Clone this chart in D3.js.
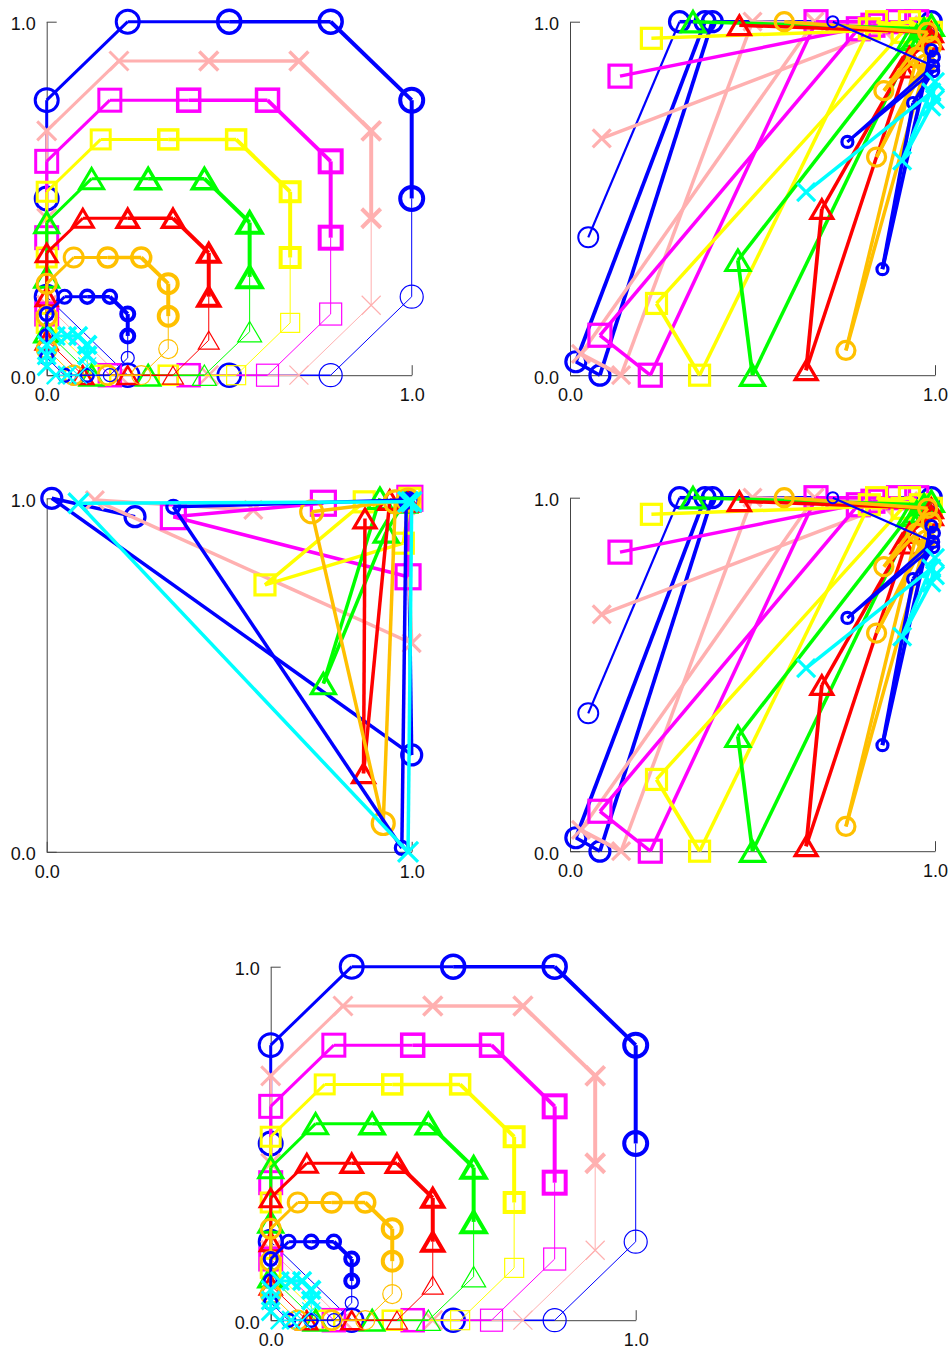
<!DOCTYPE html>
<html><head><meta charset="utf-8">
<script src="https://cdn.jsdelivr.net/npm/d3@7"></script>
<style>body{margin:0;background:#fff}svg{display:block}</style>
</head><body>
<svg id="chart" width="952" height="1353"></svg>
<script>
// ---------- shared series styling ----------
const seriesColors  = ["#0000ff","#ffb0b0","#ff00ff","#ffff00","#00ff00","#ff0000","#ffc000","#0000ff","#00ffff"];
const seriesMarkers = ["circle","x","square","square","triangle","triangle","circle","circle","x"];
const tickValues = [0, 1];
const tickLabels = ["0.0", "1.0"];

// ---------- spiral data (panels 1 and 5) ----------
const spiral0 = [[0.5,0],[0.778,0],[1,0.222],[1,0.5],[1,0.778],[0.778,1],[0.5,1],[0.222,1],[0,0.778],[0,0.5],[0,0.222],[0.222,0]];
const spiral1 = [[0.444,0],[0.691,0],[0.889,0.198],[0.889,0.444],[0.889,0.691],[0.691,0.889],[0.444,0.889],[0.198,0.889],[0,0.691],[0,0.444],[0,0.198],[0.198,0]];
const spiral2 = [[0.389,0],[0.605,0],[0.778,0.173],[0.778,0.389],[0.778,0.605],[0.605,0.778],[0.389,0.778],[0.173,0.778],[0,0.605],[0,0.389],[0,0.173],[0.173,0]];
const spiral3 = [[0.333,0],[0.519,0],[0.667,0.148],[0.667,0.333],[0.667,0.519],[0.519,0.667],[0.333,0.667],[0.148,0.667],[0,0.519],[0,0.333],[0,0.148],[0.148,0]];
const spiral4 = [[0.278,0],[0.432,0],[0.556,0.123],[0.556,0.278],[0.556,0.432],[0.432,0.556],[0.278,0.556],[0.123,0.556],[0,0.432],[0,0.278],[0,0.123],[0.123,0]];
const spiral5 = [[0.222,0],[0.346,0],[0.444,0.099],[0.444,0.222],[0.444,0.346],[0.346,0.444],[0.222,0.444],[0.099,0.444],[0,0.346],[0,0.222],[0,0.099],[0.099,0]];
const spiral6 = [[0.167,0],[0.259,0],[0.333,0.074],[0.333,0.167],[0.333,0.259],[0.259,0.333],[0.167,0.333],[0.074,0.333],[0,0.259],[0,0.167],[0,0.074],[0.074,0]];
const spiral7 = [[0.111,0],[0.173,0],[0.222,0.049],[0.222,0.111],[0.222,0.173],[0.173,0.222],[0.111,0.222],[0.049,0.222],[0,0.173],[0,0.111],[0,0.049],[0.049,0]];
const spiral8 = [[0.056,0],[0.086,0],[0.111,0.025],[0.111,0.056],[0.111,0.086],[0.086,0.111],[0.056,0.111],[0.025,0.111],[0,0.086],[0,0.056],[0,0.025],[0.025,0]];
const spiralSeries = [spiral0,spiral1,spiral2,spiral3,spiral4,spiral5,spiral6,spiral7,spiral8];
// style arrays (per segment / per point / per series)
const spiralSegWidths   = [1.5,1,1,4,4,3.5,3,3,3,3,1,1.5];
const spiralMarkerWidth = [2.5,1.2,1.2,4,4,3.5,3.5,3,3,3,3,2.5];
const spiralMarkerSize  = [11.5,9.5,22,19,24,21,9.5,6.5,9];

// ---------- scatter data A (panels 2 and 4) ----------
const a0 = [[0.05,0.39],[0.30,1.0],[0.37,1.0],[0.016,0.038],[0.082,0.0],[0.39,1.0],[0.99,1.0]];
const a1 = [[0.087,0.67],[0.86,0.975],[0.67,1.0],[0.03,0.06],[0.14,0.0],[0.50,1.0],[0.97,0.99]];
const a2 = [[0.137,0.846],[0.83,0.99],[0.95,1.0],[0.79,0.98],[0.082,0.113],[0.22,0.0],[0.674,1.0],[0.9,1.0]];
const a3 = [[0.223,0.953],[0.96,0.98],[0.84,1.0],[0.91,0.97],[0.237,0.203],[0.355,0.0],[0.82,0.98],[0.93,1.0],[0.99,0.97]];
const a4 = [[0.337,1.0],[0.97,0.98],[0.93,0.95],[0.46,0.325],[0.50,0.0],[0.95,0.96],[0.99,0.99]];
const a5 = [[0.464,0.99],[0.99,0.97],[0.91,0.87],[0.69,0.47],[0.647,0.014],[0.93,0.9],[0.99,0.95]];
const a6 = [[0.587,1.0],[0.98,0.97],[0.86,0.805],[0.95,0.9],[0.756,0.07],[0.975,0.88],[0.84,0.617],[0.99,0.93]];
const a7 = [[0.72,1.0],[0.995,0.875],[0.76,0.66],[0.995,0.86],[0.94,0.77],[0.856,0.30],[0.99,0.92],[0.997,0.9]];
const a8 = [[0.647,0.518],[0.99,0.8],[1.0,0.78],[0.91,0.607],[1.0,0.83],[0.99,0.76]];
const scatterA = [a0,a1,a2,a3,a4,a5,a6,a7,a8];
const scatterAWidths = [[2.2,3.5,3.8,3.5,3.8,3.5],[3.5,3.5,3.5,3.8,3.5,3.5],[3.5,3.5,3.5,3.5,3.5,3.5,3.5],[3.5,3.5,3.5,3.5,3.8,3.5,3.5,3.5],[3.5,3.5,3.5,3.8,3.5,3.5],[3.5,3.5,3.5,3.8,3.5,3.5],[3.5,3.5,3.5,3.5,3.5,3.5,3.5],[2.2,2.8,2.8,3.5,3.8,3.8,3.5],[3.5,3.5,3.5,3.5,3.5]];
const scatterAMarkerSize = [10,9,22,20,24,22,9,5.5,9];

// ---------- scatter data B (panel 3) ----------
const b0 = [[0.242,0.948],[0.014,1.0],[1.0,0.274],[0.99,0.99]];
const b1 = [[0.566,0.967],[0.132,0.995],[1.0,0.59],[0.985,0.98]];
const b2 = [[0.758,0.986],[0.347,0.948],[0.99,0.778],[0.995,1.0]];
const b3 = [[0.87,0.99],[0.598,0.755],[0.977,0.873],[0.995,1.0]];
const b4 = [[0.913,1.0],[0.758,0.476],[0.93,0.905],[0.98,0.99]];
const b5 = [[0.872,0.943],[0.868,0.222],[0.94,0.995],[0.99,0.99]];
const b6 = [[0.99,0.995],[0.726,0.962],[0.922,0.08],[0.955,0.99]];
const b7 = [[0.986,0.995],[0.347,0.976],[0.973,0.011],[0.985,0.99]];
const b8 = [[0.99,0.99],[0.087,0.986],[0.99,0.0],[1.0,0.99]];
const scatterB = [b0,b1,b2,b3,b4,b5,b6,b7,b8];
const scatterBMarkerSize = [10,9,24,20,24,22,11,6.5,10];

// ---------- layout ----------
const W = 365, H = 353.5;
const panels = [
  {left:46.7,  top:21.7,  kind:"spiral"},
  {left:570,   top:21.7,  kind:"A"},
  {left:46.7,  top:498.3, kind:"B"},
  {left:570,   top:497.7, kind:"A"},
  {left:270.7, top:966.7, kind:"spiral"}
];

const svg = d3.select("#chart");
const x = d3.scaleLinear().domain([0,1]).range([0,W]);
const y = d3.scaleLinear().domain([0,1]).range([H,0]);

function marker(g, type, cx, cy, size, color, sw){
  if(type==="circle"){
    g.append("circle").attr("cx",cx).attr("cy",cy).attr("r",size)
      .attr("fill","none").attr("stroke",color).attr("stroke-width",sw);
  } else if(type==="square"){
    g.append("rect").attr("x",cx-size/2).attr("y",cy-size/2).attr("width",size).attr("height",size)
      .attr("fill","none").attr("stroke",color).attr("stroke-width",sw);
  } else if(type==="triangle"){
    const h = size*0.85;
    g.append("path").attr("d",`M${cx},${cy-h/2}L${cx+size/2},${cy+h/2}L${cx-size/2},${cy+h/2}Z`)
      .attr("fill","none").attr("stroke",color).attr("stroke-width",sw).attr("stroke-linejoin","miter");
  } else {
    g.append("path").attr("d",`M${cx-size},${cy-size}L${cx+size},${cy+size}M${cx-size},${cy+size}L${cx+size},${cy-size}`)
      .attr("fill","none").attr("stroke",color).attr("stroke-width",sw);
  }
}

function drawAxes(g){
  const ya = d3.axisLeft(y).tickValues(tickValues).tickFormat((d,i)=>tickLabels[i])
    .tickSize(-10).tickSizeOuter(0).tickPadding(11);
  const xa = d3.axisBottom(x).tickValues(tickValues).tickFormat((d,i)=>tickLabels[i])
    .tickSize(-10).tickSizeOuter(0).tickPadding(13);
  const gy = g.append("g").call(ya);
  const gx = g.append("g").attr("transform",`translate(0,${H})`).call(xa);
  [gx,gy].forEach(a=>{
    a.selectAll("path,line").attr("stroke","#444").attr("stroke-width",1);
    a.selectAll("text").attr("fill","#111").style("font-family","'Liberation Sans', Arial, sans-serif").style("font-size","18px");
  });
  gy.selectAll("text").attr("dy","0.45em");
}

function drawSpiral(g){
  spiralSeries.forEach((pts,si)=>{
    const col = seriesColors[si];
    const sg = g.append("g");
    pts.forEach((p,k)=>{
      const q = pts[(k+1)%pts.length];
      sg.append("line").attr("x1",x(p[0])).attr("y1",y(p[1])).attr("x2",x(q[0])).attr("y2",y(q[1]))
        .attr("stroke",col).attr("stroke-width",spiralSegWidths[k]);
    });
    pts.forEach((p,k)=>marker(sg, seriesMarkers[si], x(p[0]), y(p[1]), spiralMarkerSize[si], col, spiralMarkerWidth[k]));
  });
}

function drawScatter(g, data, widths, sizes){
  data.forEach((pts,si)=>{
    const col = seriesColors[si];
    const sg = g.append("g");
    for(let k=0;k<pts.length-1;k++){
      const p=pts[k], q=pts[k+1];
      const w = widths ? widths[si][k] : 3.5;
      sg.append("line").attr("x1",x(p[0])).attr("y1",y(p[1])).attr("x2",x(q[0])).attr("y2",y(q[1]))
        .attr("stroke",col).attr("stroke-width",w);
    }
    pts.forEach((p,k)=>{
      let sw = 3.2;
      if(widths){ const w = widths[si][Math.min(k,widths[si].length-1)]; sw = w<2.5?2:3.2; }
      marker(sg, seriesMarkers[si], x(p[0]), y(p[1]), sizes[si], col, sw);
    });
  });
}

panels.forEach(pn=>{
  const g = svg.append("g").attr("transform",`translate(${pn.left},${pn.top})`);
  drawAxes(g);
  if(pn.kind==="spiral") drawSpiral(g);
  else if(pn.kind==="A") drawScatter(g, scatterA, scatterAWidths, scatterAMarkerSize);
  else drawScatter(g, scatterB, null, scatterBMarkerSize);
});
</script>
</body></html>
